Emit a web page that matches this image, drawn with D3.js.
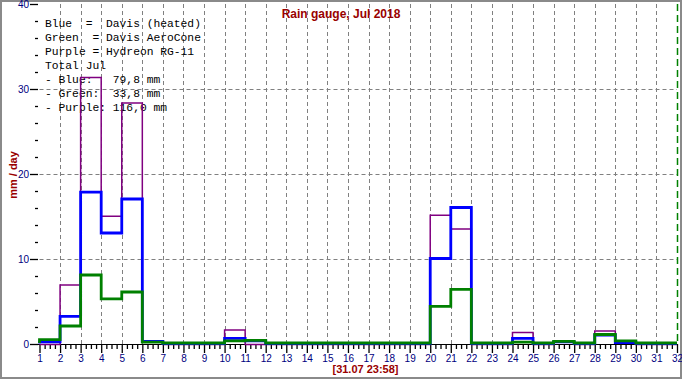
<!DOCTYPE html>
<html>
<head>
<meta charset="utf-8">
<script src="https://cdn.jsdelivr.net/npm/d3@7"></script>
<style>
  html, body { margin: 0; padding: 0; background: #fff; }
  svg { display: block; }
  text { font-family: Arial, "Liberation Sans", sans-serif; }
</style>
</head>
<body>
<svg id="chart" width="682" height="380"></svg>
<script>
// ---- data ----
const days = d3.range(1, 32); // 1..31
const dayTicks = d3.range(1, 33); // 1..32
const yTicks = [0, 10, 20, 30, 40];
const blue   = [0.2, 3.2, 17.8, 13.0, 17.0, 0.25, 0, 0, 0, 0.6, 0.3, 0, 0, 0, 0, 0, 0, 0, 0, 10.0, 16.0, 0, 0, 0.6, 0, 0.2, 0, 1.0, 0.1, 0, 0];
const green  = [0.4, 2.0, 8.0, 5.2, 6.0, 0.1, 0, 0, 0, 0.25, 0.3, 0, 0, 0, 0, 0, 0, 0, 0, 4.3, 6.3, 0, 0, 0.1, 0, 0.2, 0, 1.0, 0.25, 0, 0];
const purple = [0, 7.0, 31.4, 15.1, 28.4, 0.3, 0, 0, 0, 1.7, 0, 0, 0, 0, 0, 0, 0, 0, 0, 15.2, 13.6, 0, 0, 1.4, 0, 0.3, 0, 1.6, 0.3, 0, 0];
const legendLines = [
  "Blue  =  Davis (heated)",
  "Green  = Davis AeroCone",
  "Purple = Hydreon RG-11",
  "Total Jul",
  "- Blue:   79,8 mm",
  "- Green:  33,8 mm",
  "- Purple: 116,0 mm"
];
const title = "Rain gauge, Jul 2018";
const yTitle = "mm / day";
const xTitle = "[31.07 23:58]";

// ---- layout ----
const svg = d3.select("#chart");
const x = d3.scaleLinear().domain([1, 32]).range([39.5, 677]);
const y = d3.scaleLinear().domain([0, 40]).range([344, 4]);

// border
svg.append("rect").attr("x", 1).attr("y", 1).attr("width", 680).attr("height", 377)
  .attr("fill", "#fff").attr("stroke", "#8a8a8a").attr("stroke-width", 2);

// grid
const grid = svg.append("g").attr("stroke", "#808080").attr("stroke-width", 1)
  .attr("stroke-dasharray", "4,3").attr("fill", "none");
dayTicks.filter(d => d > 1 && d < 32).forEach(d => {
  const xx = Math.round(x(d)) + 0.5;
  grid.append("line").attr("x1", xx).attr("x2", xx).attr("y1", y(40)).attr("y2", y(0));
});
[10, 20, 30].forEach(v => {
  const yy = Math.round(y(v)) + 0.5;
  grid.append("line").attr("x1", x(1)).attr("x2", x(32)).attr("y1", yy).attr("y2", yy);
});
// current-time marker
svg.append("line").attr("x1", Math.round(x(32)) + 0.5).attr("x2", Math.round(x(32)) + 0.5)
  .attr("y1", y(40)).attr("y2", y(0)).attr("stroke", "#008000").attr("stroke-width", 1.5)
  .attr("stroke-dasharray", "7,4");

// legend text
const leg = svg.append("g").attr("font-size", "11.3px").attr("fill", "#000");
legendLines.forEach((t, i) => {
  leg.append("text").attr("x", 45).attr("y", 27 + i * 14)
    .style("white-space", "pre").attr("xml:space", "preserve")
    .style("font-family", "'Liberation Mono', 'Courier New', monospace")
    .text(t);
});

// x axis baseline
svg.append("line").attr("x1", 38).attr("x2", x(32)).attr("y1", 344.5).attr("y2", 344.5)
  .attr("stroke", "#000").attr("stroke-width", 1);

// x axis major ticks + labels
const xAxis = d3.axisBottom(x).tickValues(dayTicks).tickSize(9).tickPadding(2)
  .tickFormat(d3.format("d"));
const gx = svg.append("g").attr("transform", "translate(0,344)").call(xAxis);
gx.select(".domain").remove();
gx.selectAll("line").attr("stroke", "#000").attr("stroke-width", 1.3);
gx.selectAll("text").attr("fill", "#000080").attr("font-size", "10px")
  .style("font-family", "Arial, 'Liberation Sans', sans-serif");

// x axis minor ticks (6 h)
const minorX = [];
days.forEach(d => { [0.25, 0.5, 0.75].forEach(f => minorX.push(d + f)); });
const gxm = svg.append("g").attr("transform", "translate(0,344)")
  .call(d3.axisBottom(x).tickValues(minorX).tickSize(5).tickFormat(""));
gxm.select(".domain").remove();
gxm.selectAll("line").attr("stroke", "#000").attr("stroke-width", 1.3);

// y axis
const yAxis = d3.axisLeft(y).tickValues(yTicks).tickSize(8).tickPadding(1);
const gy = svg.append("g").attr("transform", "translate(38,0)").call(yAxis);
gy.select(".domain").remove();
gy.selectAll("line").attr("stroke", "#000").attr("stroke-width", 1.3);
gy.selectAll("text").attr("fill", "#000080").attr("font-size", "10px")
  .style("font-family", "Arial, 'Liberation Sans', sans-serif");
const minorY = d3.range(2, 40, 2).filter(v => v % 10 !== 0);
const gym = svg.append("g").attr("transform", "translate(38,0)")
  .call(d3.axisLeft(y).tickValues(minorY).tickSize(3).tickFormat(""));
gym.select(".domain").remove();
gym.selectAll("line").attr("stroke", "#000").attr("stroke-width", 1.3);

// step series
function stepPoints(vals) {
  const pts = [[1, 0]];
  vals.forEach((v, i) => pts.push([days[i], v]));
  pts.push([32, vals[vals.length - 1]]);
  pts.push([32, 0]);
  return pts;
}
const line = d3.line().x(d => x(d[0])).y(d => y(d[1])).curve(d3.curveStepAfter);
const series = [
  { vals: purple, color: "#800080", w: 1.5, dy: 0.5 },
  { vals: blue,   color: "#0000ff", w: 2.8, dy: -0.5 },
  { vals: green,  color: "#008000", w: 2.8, dy: -1 }
];
series.forEach(s => {
  svg.append("path").datum(stepPoints(s.vals))
    .attr("transform", `translate(0,${s.dy})`)
    .attr("d", line).attr("fill", "none").attr("stroke", s.color)
    .attr("stroke-width", s.w).attr("stroke-linejoin", "miter");
});

// titles
svg.append("text").attr("x", 341).attr("y", 18).attr("text-anchor", "middle")
  .attr("font-size", "12px").attr("font-weight", "bold").attr("fill", "#990000").text(title);
svg.append("text").attr("transform", "translate(17,175) rotate(-90)").attr("text-anchor", "middle")
  .attr("font-size", "11px").attr("font-weight", "bold").attr("fill", "#990000").text(yTitle);
svg.append("text").attr("x", 365.5).attr("y", 373).attr("text-anchor", "middle")
  .attr("font-size", "11px").attr("font-weight", "bold").attr("fill", "#990000").text(xTitle);
</script>
</body>
</html>
